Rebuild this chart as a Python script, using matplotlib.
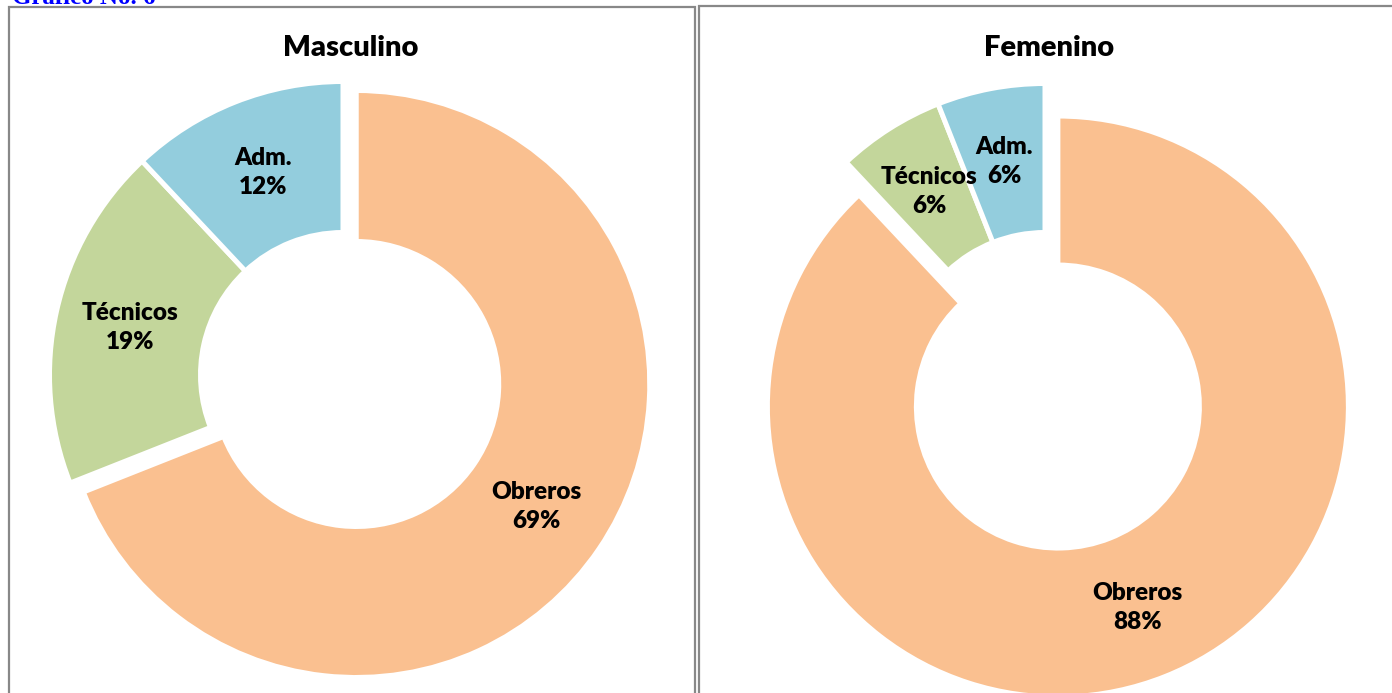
import matplotlib
matplotlib.use("Agg")
import matplotlib.pyplot as plt
from matplotlib.patches import Rectangle

# ---- data ----
categories = ["Obreros", "Técnicos", "Adm."]
masculino = [69, 19, 12]
femenino = [88, 6, 6]
titles = ["Masculino", "Femenino"]
colors = ["#FAC090", "#C3D69B", "#93CDDD"]
header = "Gráfico No. 6"

W, H = 1392, 693
fig = plt.figure(figsize=(W / 100, H / 100), dpi=100)
ax = fig.add_axes([0, 0, 1, 1])

FONT = "Lato"

def donut(values, center, r_out, r_in, explode_px, title, title_x):
    lw_px = 5.0
    R = r_out + lw_px / 2
    width = R - (r_in - lw_px / 2)
    labels = [f"{c}\n{v}%" for c, v in zip(categories, values)]
    wedges, texts = ax.pie(
        values, labels=labels, colors=colors, startangle=90, counterclock=False,
        center=center, radius=R,
        explode=[explode_px, 0, 0],
        labeldistance=((r_out + r_in) / 2) / R,
        wedgeprops=dict(width=width, edgecolor="white", linewidth=lw_px * 72 / 100),
        textprops=dict(ha="center", va="center", fontsize=17.5, fontweight=800,
                       family=FONT, color="black", linespacing=1.4),
    )
    for w in wedges:
        w.set_clip_on(False)
    ax.text(title_x, H - 56, title, ha="center", va="baseline", fontsize=21,
            fontweight=800, family=FONT, color="black")

donut(masculino, (343, H - 375), 291, 145, 16, titles[0], 351)
donut(femenino, (1045, H - 374), 288, 144, 35, titles[1], 1049)

# panel frames
ax.add_patch(Rectangle((9, -20), 686, H - 7 + 20, fill=False, edgecolor="#888888",
                       linewidth=1.6, clip_on=False))
ax.add_patch(Rectangle((699, -20), 720, H - 6 + 20, fill=False, edgecolor="#888888",
                       linewidth=1.6, clip_on=False))

fig.text(12 / W, 1 - 4 / H, header, ha="left", va="baseline", fontsize=18,
         fontweight="bold", family="Liberation Serif", color="#0000FF")

ax.set_xlim(0, W)
ax.set_ylim(0, H)
ax.set_aspect("auto")
ax.axis("off")

fig.savefig("out.png", dpi=100)
